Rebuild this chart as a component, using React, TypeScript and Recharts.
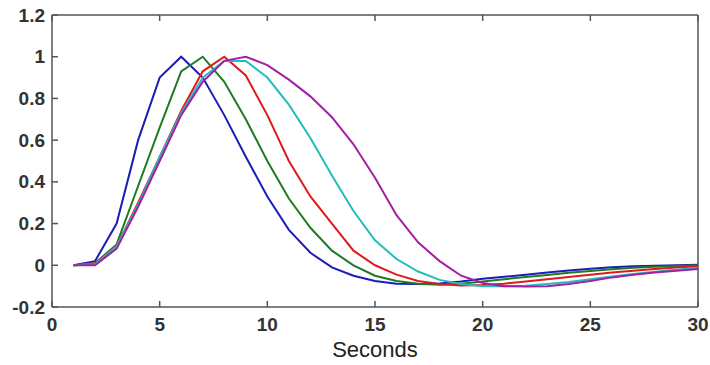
import { LineChart, Line, XAxis, YAxis } from "recharts";

const seconds = [1, 2, 3, 4, 5, 6, 7, 8, 9, 10, 11, 12, 13, 14, 15, 16, 17, 18, 19, 20, 21, 22, 23, 24, 25, 26, 27, 28, 29, 30];

const blue = [0, 0.02, 0.2, 0.6, 0.9, 1.0, 0.9, 0.72, 0.52, 0.33, 0.17, 0.06, -0.01, -0.05, -0.075, -0.088, -0.09, -0.087, -0.078, -0.065, -0.055, -0.045, -0.035, -0.025, -0.017, -0.01, -0.005, -0.002, 0, 0.003];
const green = [0, 0.01, 0.1, 0.38, 0.66, 0.93, 1.0, 0.88, 0.7, 0.5, 0.32, 0.18, 0.07, 0.0, -0.05, -0.075, -0.088, -0.093, -0.088, -0.078, -0.067, -0.056, -0.046, -0.036, -0.027, -0.019, -0.012, -0.007, -0.003, 0];
const red = [0, 0.01, 0.09, 0.3, 0.52, 0.74, 0.93, 1.0, 0.91, 0.72, 0.5, 0.33, 0.2, 0.07, 0.0, -0.045, -0.075, -0.09, -0.097, -0.095, -0.088, -0.078, -0.067, -0.056, -0.045, -0.035, -0.026, -0.018, -0.011, -0.005];
const cyan = [0, 0.005, 0.09, 0.29, 0.52, 0.73, 0.9, 0.98, 0.98, 0.9, 0.77, 0.61, 0.43, 0.26, 0.12, 0.03, -0.03, -0.07, -0.09, -0.1, -0.1, -0.098, -0.09, -0.08, -0.067, -0.054, -0.042, -0.031, -0.021, -0.012];
const magenta = [0, 0.0, 0.08, 0.28, 0.5, 0.72, 0.88, 0.98, 1.0, 0.96, 0.89, 0.81, 0.71, 0.58, 0.42, 0.24, 0.11, 0.02, -0.05, -0.085, -0.1, -0.102, -0.1, -0.09, -0.075, -0.058, -0.045, -0.035, -0.026, -0.018];

const xTicks = [0, 5, 10, 15, 20, 25, 30];
const yTicks = [-0.2, 0, 0.2, 0.4, 0.6, 0.8, 1, 1.2];

const series = [
  { key: "blue", color: "#1c1cb8" },
  { key: "green", color: "#1f7a22" },
  { key: "red", color: "#e01a1a" },
  { key: "cyan", color: "#22bcbc" },
  { key: "magenta", color: "#a21fa6" },
];

const data = seconds.map((t, i) => ({
  t,
  blue: blue[i],
  green: green[i],
  red: red[i],
  cyan: cyan[i],
  magenta: magenta[i],
}));

const axisColor = "#555";
const font = "Liberation Sans, Arial, sans-serif";
const labelStyle = { fontFamily: font, fontSize: 19, fontWeight: 700, fill: "#333" };

// tick marks point into the plot, like the matlab frame
function BottomTick({ x, y, payload }: any) {
  return (
    <g>
      <line x1={x} x2={x} y1={y} y2={y - 6} stroke={axisColor} strokeWidth={1.5} />
      <text x={x} y={y + 10} textAnchor="middle" dominantBaseline="hanging" style={labelStyle}>
        {payload.value}
      </text>
    </g>
  );
}

function LeftTick({ x, y, payload }: any) {
  return (
    <g>
      <line x1={x} x2={x + 6} y1={y} y2={y} stroke={axisColor} strokeWidth={1.5} />
      <text x={x - 7} y={y} textAnchor="end" dominantBaseline="central" style={labelStyle}>
        {payload.value}
      </text>
    </g>
  );
}

function TopTick({ x, y }: any) {
  return <line x1={x} x2={x} y1={y} y2={y + 6} stroke={axisColor} strokeWidth={1.5} />;
}

function RightTick({ x, y }: any) {
  return <line x1={x} x2={x - 6} y1={y} y2={y} stroke={axisColor} strokeWidth={1.5} />;
}

export default function App() {
  return (
    <div style={{ position: "absolute", left: 0, top: 0, background: "#fff" }}>
      <LineChart width={710} height={365} data={data} margin={{ top: 0, right: 0, left: 8, bottom: 8 }}>
        <XAxis
          xAxisId="b"
          dataKey="t"
          type="number"
          domain={[0, 30]}
          ticks={xTicks}
          height={50}
          stroke={axisColor}
          strokeWidth={1.5}
          tickLine={false}
          tickSize={0}
          tickMargin={0}
          tick={<BottomTick />}
          label={{
            value: "Seconds",
            position: "insideBottom",
            offset: 0,
            style: { fontFamily: font, fontSize: 22, fill: "#222" },
          }}
        />
        <XAxis
          xAxisId="t"
          orientation="top"
          dataKey="t"
          type="number"
          domain={[0, 30]}
          ticks={xTicks}
          height={15}
          stroke={axisColor}
          strokeWidth={1.5}
          tickLine={false}
          tickSize={0}
          tickMargin={0}
          tick={<TopTick />}
        />
        <YAxis
          yAxisId="l"
          type="number"
          domain={[-0.2, 1.2]}
          ticks={yTicks}
          width={44}
          stroke={axisColor}
          strokeWidth={1.5}
          tickLine={false}
          tickSize={0}
          tickMargin={0}
          tick={<LeftTick />}
        />
        <YAxis
          yAxisId="r"
          orientation="right"
          type="number"
          domain={[-0.2, 1.2]}
          ticks={yTicks}
          width={12}
          stroke={axisColor}
          strokeWidth={1.5}
          tickLine={false}
          tickSize={0}
          tickMargin={0}
          tick={<RightTick />}
        />
        {series.map((s) => (
          <Line
            key={s.key}
            xAxisId="b"
            yAxisId="l"
            type="linear"
            dataKey={s.key}
            stroke={s.color}
            strokeWidth={2}
            dot={false}
            isAnimationActive={false}
          />
        ))}
      </LineChart>
    </div>
  );
}
